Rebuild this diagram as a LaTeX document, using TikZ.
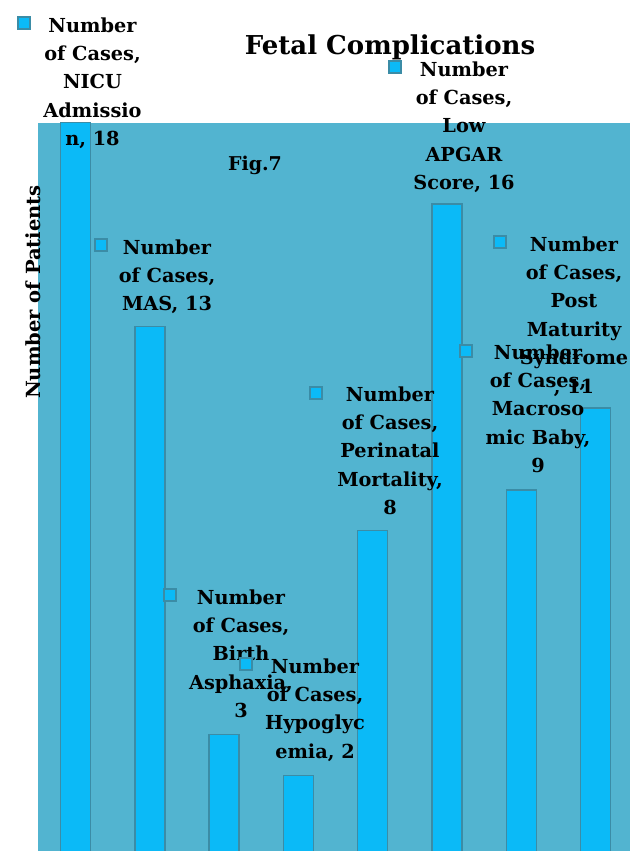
\documentclass[tikz,border=0pt]{standalone}
\usepackage{fontspec}
\setmainfont{DejaVu Serif}
\usepackage{xcolor}
\definecolor{cPlot}{HTML}{52B4D0}
\definecolor{cBar}{HTML}{0BBAF7}
\definecolor{cEdge}{HTML}{3B8CA6}
\usepackage{tikz}
\usetikzlibrary{positioning}
\tikzset{
  bar/.style={draw=cEdge,line width=1.5pt,fill=cBar},
  key-mark/.style={draw=cEdge,line width=1.2pt,fill=cBar,minimum size=12pt,inner sep=0pt},
  % anchor=base sits on the last line of the label
  data-label/.style={align=center,anchor=base,inner sep=0pt,
    font=\fontsize{19.3}{28.4}\selectfont\bfseries},
}

\begin{document}
\begin{tikzpicture}[x=1pt, y=-1pt]
  \useasboundingbox (0,0) rectangle (630,851);
  \clip (0,0) rectangle (630,851);
  % plot area
  \fill[cPlot] (38,123) rectangle (630,851);
  % bars, baseline at 857
  \draw[bar] (60.5,860) rectangle (90.5,122.6);
  \draw[bar] (134.8,860) rectangle (164.8,326.6);
  \draw[bar] (209.1,860) rectangle (239.1,734.6);
  \draw[bar] (283.4,860) rectangle (313.4,775.4);
  \draw[bar] (357.7,860) rectangle (387.7,530.6);
  \draw[bar] (432,860) rectangle (462,204.2);
  \draw[bar] (506.3,860) rectangle (536.3,489.8);
  \draw[bar] (580.6,860) rectangle (610.6,408.2);
  % titles
  \node[font=\fontsize{26}{32}\selectfont\bfseries,anchor=base] (title) at (390,55) {Fetal Complications};
  \node[font=\fontsize{19}{24}\selectfont\bfseries,anchor=base] (fig) at (255,170) {Fig.7};
  \node[font=\fontsize{19.5}{24}\selectfont\bfseries,anchor=base,rotate=90] (yaxis) at (40,292) {Number of Patients};
  % data labels with legend keys
  \node[key-mark] (key-nicu) at (24,23) {};
  \node[data-label] (lbl-nicu) at (92.5,145.6) {Number\\of Cases,\\NICU\\Admissio\\n, 18};
  \node[key-mark] (key-apgar) at (395,67) {};
  \node[data-label] (lbl-apgar) at (464,189.6) {Number\\of Cases,\\Low\\APGAR\\Score, 16};
  \node[key-mark] (key-mas) at (101,245) {};
  \node[data-label] (lbl-mas) at (167,310.8) {Number\\of Cases,\\MAS, 13};
  \node[key-mark] (key-post) at (500,242) {};
  \node[data-label] (lbl-post) at (574,393) {Number\\of Cases,\\Post\\Maturity\\Syndrome\\, 11};
  \node[key-mark] (key-macro) at (466,351) {};
  \node[data-label] (lbl-macro) at (538,472.6) {Number\\of Cases,\\Macroso\\mic Baby,\\9};
  \node[key-mark] (key-peri) at (316,393) {};
  \node[data-label] (lbl-peri) at (390,514.6) {Number\\of Cases,\\Perinatal\\Mortality,\\8};
  \node[key-mark] (key-birth) at (170,595) {};
  \node[data-label] (lbl-birth) at (241,717.6) {Number\\of Cases,\\Birth\\Asphaxia,\\3};
  \node[key-mark] (key-hypo) at (246,664) {};
  \node[data-label] (lbl-hypo) at (315,758.2) {Number\\of Cases,\\Hypoglyc\\emia, 2};
\end{tikzpicture}
\end{document}
